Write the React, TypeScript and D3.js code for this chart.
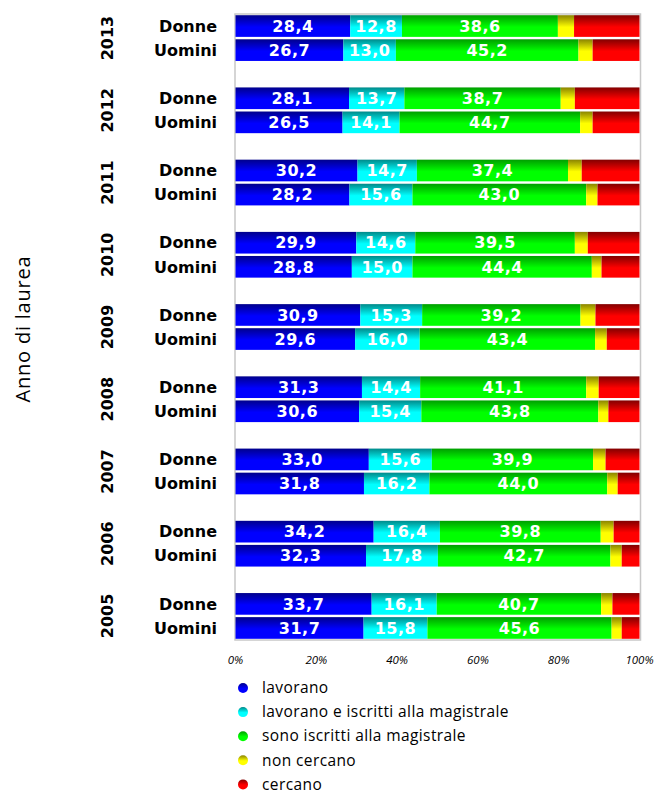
import React from "react";
import * as d3 from "d3";

const years = ["2013", "2012", "2011", "2010", "2009", "2008", "2007", "2006", "2005"];
const genders = ["Donne", "Uomini"];
const seriesNames = [
  "lavorano",
  "lavorano e iscritti alla magistrale",
  "sono iscritti alla magistrale",
  "non cercano",
  "cercano",
];
// values per row (year order above, Donne then Uomini)
const lavorano = [28.4, 26.7, 28.1, 26.5, 30.2, 28.2, 29.9, 28.8, 30.9, 29.6, 31.3, 30.6, 33.0, 31.8, 34.2, 32.3, 33.7, 31.7];
const lavIscritti = [12.8, 13.0, 13.7, 14.1, 14.7, 15.6, 14.6, 15.0, 15.3, 16.0, 14.4, 15.4, 15.6, 16.2, 16.4, 17.8, 16.1, 15.8];
const iscritti = [38.6, 45.2, 38.7, 44.7, 37.4, 43.0, 39.5, 44.4, 39.2, 43.4, 41.1, 43.8, 39.9, 44.0, 39.8, 42.7, 40.7, 45.6];
const nonCercano = [4.0, 3.5, 3.5, 3.1, 3.4, 2.8, 3.2, 2.4, 3.7, 2.9, 3.1, 2.5, 3.1, 2.6, 3.2, 2.8, 2.8, 2.5];
const cercano = [16.2, 11.6, 16.0, 11.6, 14.3, 10.4, 12.8, 9.4, 10.9, 8.1, 10.1, 7.7, 8.4, 5.4, 6.4, 4.4, 6.7, 4.4];
const ticks = [0, 20, 40, 60, 80, 100];

const darkColors = ["#00008c", "#008a8a", "#009e00", "#8a8400", "#820000"];
const brightColors = ["#0000ff", "#00ffff", "#00ff00", "#ffff00", "#ff0000"];
const labeledSeries = [0, 1, 2];

const W = 655;
const H = 794;
const plotLeft = 235.5;
const plotRight = 639.5;
const plotTop = 14;
const plotBottom = 640;

export default function App() {
  const seriesValues = [lavorano, lavIscritti, iscritti, nonCercano, cercano];

  const rowKeys: string[] = [];
  years.forEach((y, i) => {
    rowKeys.push(y + "-Donne");
    rowKeys.push(y + "-Uomini");
    if (i < years.length - 1) rowKeys.push(y + "-gap");
  });

  const yScale = d3
    .scaleBand<string>()
    .domain(rowKeys)
    .range([plotTop, plotBottom])
    .paddingInner(0.1)
    .paddingOuter(0.05);

  const xScale = d3.scaleLinear().domain([0, 100]).range([plotLeft, plotRight]);

  const rows = years.flatMap((y) => genders.map((g) => ({ year: y, gender: g, key: y + "-" + g })));
  const table = rows.map((r, i) => {
    const obj: any = { key: r.key };
    seriesNames.forEach((s, j) => (obj[s] = seriesValues[j][i]));
    return obj;
  });
  const stacked = d3.stack<any>().keys(seriesNames)(table);

  const bw = yScale.bandwidth();
  const fmt = (v: number) => v.toFixed(1).replace(".", ",");

  return (
    <svg
      width={W}
      height={H}
      style={{ position: "absolute", left: 0, top: 0, background: "#fff" }}
      fontFamily="DejaVu Sans, sans-serif"
    >
      <defs>
        {seriesNames.map((s, j) => (
          <linearGradient key={s} id={"g" + j} x1="0" y1="0" x2="0" y2="1">
            <stop offset="0" stopColor={darkColors[j]} />
            <stop offset="0.55" stopColor={brightColors[j]} />
            <stop offset="1" stopColor={brightColors[j]} />
          </linearGradient>
        ))}
      </defs>

      {/* plot frame */}
      <rect
        x={plotLeft - 0.5}
        y={plotTop}
        width={plotRight - plotLeft + 1.5}
        height={plotBottom - plotTop}
        fill="none"
        stroke="#c8c8c8"
        strokeWidth={1.5}
      />

      {/* bars */}
      {stacked.map((layer, j) => (
        <g key={layer.key}>
          {layer.map((d, i) => {
            const y = yScale(rows[i].key)!;
            const x0 = xScale(d[0]);
            const x1 = xScale(d[1]);
            return <rect key={i} x={x0} y={y} width={x1 - x0} height={bw} fill={`url(#g${j})`} />;
          })}
        </g>
      ))}

      {/* value labels */}
      {stacked
        .filter((_, j) => labeledSeries.includes(j))
        .map((layer, j) => (
          <g key={"l" + j}>
            {layer.map((d, i) => {
              const y = yScale(rows[i].key)! + bw / 2;
              const x = (xScale(d[0]) + xScale(d[1])) / 2;
              return (
                <text
                  key={i}
                  x={x}
                  y={y}
                  dy="0.36em"
                  textAnchor="middle"
                  fill="#fff"
                  fontWeight="bold"
                  fontSize={16}
                  letterSpacing={0.5}
                >
                  {fmt(d[1] - d[0])}
                </text>
              );
            })}
          </g>
        ))}

      {/* gender labels */}
      {rows.map((r) => (
        <text
          key={"c" + r.key}
          x={217}
          y={yScale(r.key)! + bw / 2}
          dy="0.36em"
          textAnchor="end"
          fontWeight="bold"
          fontSize={16}
          fill="#000"
        >
          {r.gender}
        </text>
      ))}

      {/* year labels */}
      {years.map((y) => {
        const cy = (yScale(y + "-Donne")! + yScale(y + "-Uomini")! + bw) / 2;
        return (
          <text
            key={"y" + y}
            transform={`translate(107,${cy}) rotate(-90)`}
            dy="0.36em"
            textAnchor="middle"
            fontWeight="bold"
            fontSize={16}
            fill="#000"
          >
            {y}
          </text>
        );
      })}

      {/* axis title */}
      <text
        transform={`translate(23,${(plotTop + plotBottom) / 2 + 2}) rotate(-90)`}
        dy="0.36em"
        textAnchor="middle"
        fontSize={20}
        letterSpacing={0.8}
        fill="#000"
        fontFamily="Open Sans, sans-serif"
      >
        Anno di laurea
      </text>

      {/* x ticks */}
      {ticks.map((t) => (
        <text
          key={"t" + t}
          x={xScale(t)}
          y={660}
          dy="0.36em"
          textAnchor="middle"
          fontSize={11.5}
          fontStyle="italic"
          fontFamily="Open Sans, sans-serif"
          fill="#000"
        >
          {t}%
        </text>
      ))}

      {/* legend */}
      {seriesNames.map((s, j) => {
        const ly = 688 + j * 24.1;
        return (
          <g key={"leg" + s}>
            <circle cx={243} cy={ly} r={5} fill={`url(#g${j})`} />
            <text
              x={262}
              y={ly}
              dy="0.34em"
              fontSize={15.5}
              letterSpacing={0.4}
              fontFamily="Open Sans, sans-serif"
              fill="#000"
            >
              {s}
            </text>
          </g>
        );
      })}
    </svg>
  );
}
